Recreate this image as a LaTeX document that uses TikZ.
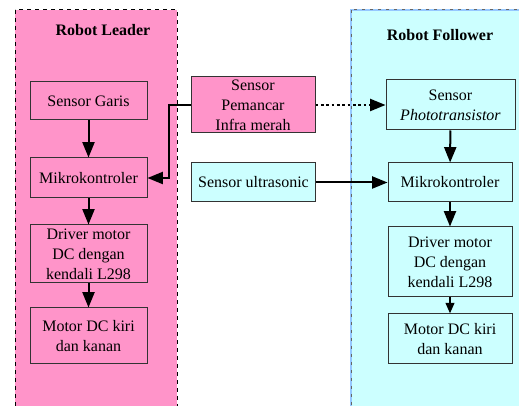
\documentclass[tikz,border=0pt]{standalone}
\usepackage{fontspec}
\setmainfont{Liberation Serif}
\usepackage[svgnames]{xcolor}
\usetikzlibrary{arrows.meta}
\definecolor{leaderpink}{RGB}{255,148,201}
\definecolor{followercyan}{RGB}{204,255,255}
\definecolor{borderblue}{RGB}{150,200,255}
\tikzstyle{none}=[inner sep=0pt]
\tikzstyle{title}=[inner sep=0pt,font=\fontsize{12pt}{15pt}\selectfont\bfseries]
\tikzstyle{block}=[draw=black!80,line width=0.75,inner sep=0pt,align=center,font=\fontsize{12pt}{15pt}\selectfont]
\tikzstyle{pinkblock}=[style=block,fill=leaderpink]
\tikzstyle{cyanblock}=[style=block,fill=followercyan]
\tikzstyle{leaderpanel}=[fill=leaderpink,draw=black,line width=0.75,dash pattern=on 3pt off 3pt]
\tikzstyle{followerpanel}=[fill=followercyan,draw=borderblue,line width=2,postaction={draw=black!60,line width=0.75,dash pattern=on 2pt off 4pt}]
\tikzstyle{arrow}=[-{Triangle[length=11.5pt,width=9pt]},draw=Black,line width=1.5]
\tikzstyle{smallarrow}=[-{Triangle[length=8pt,width=6.5pt]},draw=Black,line width=1.5]
\tikzstyle{dasharrow}=[style=arrow,dash pattern=on 2pt off 2pt]

\begin{document}
\begin{tikzpicture}[x=0.75pt,y=-0.75pt]
 \clip (0,0) rectangle (519,406);
 \draw [style=leaderpanel] (15,10) rectangle (177,420);
 \draw [style=followerpanel] (351,10) rectangle (540,420);
 \node [style=title] (0) at (103,30) {Robot Leader};
 \node [style=title] (1) at (440,35) {Robot Follower};
 \node [style=pinkblock,minimum width=87.75pt,minimum height=28.5pt] (2) at (88.5,101) {Sensor Garis};
 \node [style=pinkblock,minimum width=87.75pt,minimum height=30pt] (3) at (88.5,178) {Mikrokontroler};
 \node [style=pinkblock,minimum width=87.75pt,minimum height=43.5pt] (4) at (88.5,254) {Driver motor\\DC dengan\\kendali L298};
 \node [style=pinkblock,minimum width=87.75pt,minimum height=42pt] (5) at (88.5,336) {Motor DC kiri\\dan kanan};
 \node [style=pinkblock,minimum width=93pt,minimum height=42pt] (6) at (253,105) {Sensor\\Pemancar\\Infra merah};
 \node [style=cyanblock,minimum width=93pt,minimum height=29.25pt] (7) at (253.5,182.5) {Sensor ultrasonic};
 \node [style=cyanblock,minimum width=96.75pt,minimum height=37.5pt] (8) at (450.5,105) {Sensor\\\textit{Phototransistor}};
 \node [style=cyanblock,minimum width=93pt,minimum height=29.25pt] (9) at (450,182.5) {Mikrokontroler};
 \node [style=cyanblock,minimum width=93pt,minimum height=52.5pt] (10) at (450,262) {Driver motor\\DC dengan\\kendali L298};
 \node [style=cyanblock,minimum width=93pt,minimum height=37.5pt] (11) at (450,339) {Motor DC kiri\\dan kanan};
 \coordinate (12) at (169,105);
 \draw [style=arrow] (2) to (3);
 \draw [style=arrow] (3) to (4);
 \draw [style=arrow] (4) to (5);
 \draw [style=arrow] (6.west) -- (12) |- (3.east);
 \draw [style=dasharrow] (6) to (8);
 \draw [style=arrow] (7) to (9);
 \draw [style=arrow] (8) to (9);
 \draw [style=arrow] (9) to (10);
 \draw [style=smallarrow] (10) to (11);
\end{tikzpicture}
\end{document}
